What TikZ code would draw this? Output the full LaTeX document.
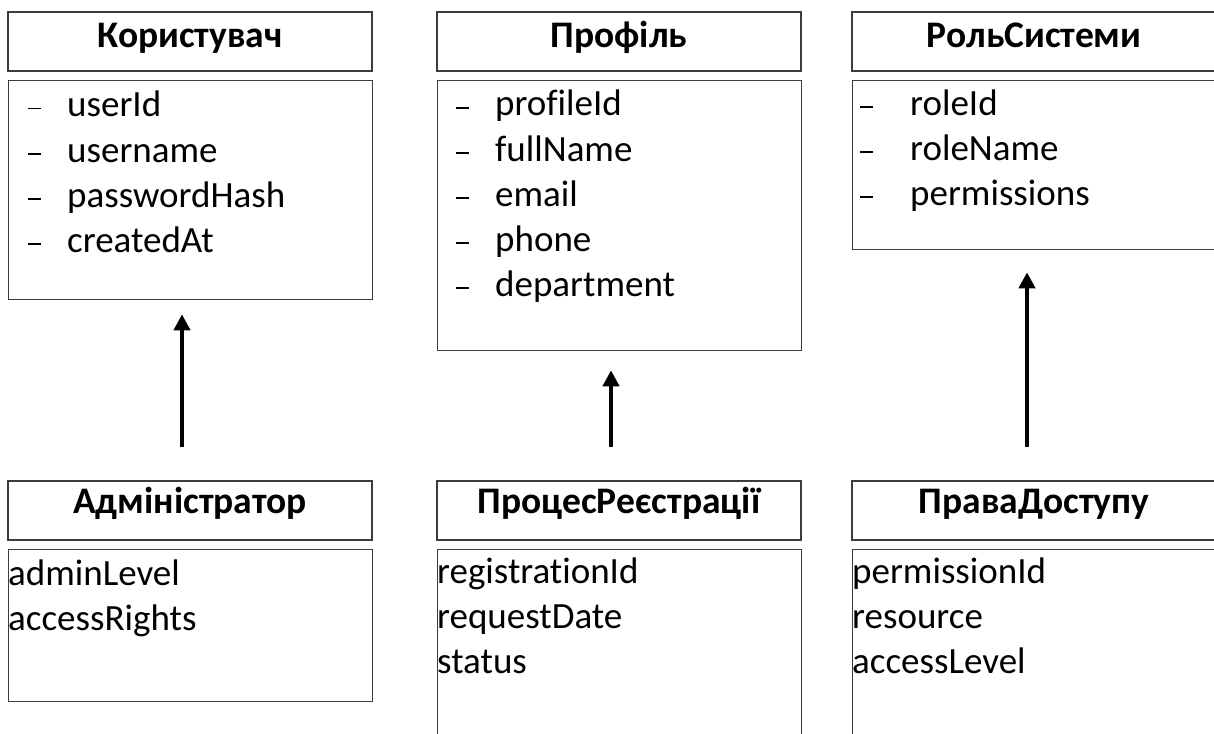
\documentclass[tikz,border=0pt]{standalone}
\usepackage{fontspec}
\setmainfont[Ligatures=NoCommon]{Carlito}
\usetikzlibrary{arrows.meta}
\definecolor{boxline}{RGB}{60,60,60}
\tikzset{
  hdr/.style={draw=boxline, line width=1.3pt, rectangle, minimum width=364pt, minimum height=59pt,
    inner sep=0pt, font=\fontsize{37.5}{44}\selectfont\bfseries},
  hdrtop/.style={hdr, text height=23pt, text depth=11pt},
  hdrbot/.style={hdr, text height=20pt, text depth=14pt},
  bodybox/.style={draw=boxline, line width=1.3pt, rectangle, minimum width=364pt, inner sep=0pt, anchor=north west},
  attr/.style={anchor=base west, inner sep=0pt, font=\fontsize{37}{45}\selectfont},
  arr/.style={draw=black, line width=4pt, -{Triangle[width=16pt,length=16pt]}}
}
\newcommand{\dashmark}{\rule[7.5pt]{13pt}{1.4pt}}
\newcommand{\bul}[1]{\makebox[39pt][l]{\dashmark}#1}
\begin{document}
\begin{tikzpicture}[x=1pt,y=-1pt]
\clip (0,0) rectangle (1214,733);
\fill[white] (0,0) rectangle (1214,733);
% top row
\node[hdrtop] (userH) at (190,41.5) {Користувач};
\node[bodybox, minimum height=219pt] (userB) at (8,80) {};
\node[hdrtop] (profH) at (619,41.5) {Профіль};
\node[bodybox, minimum height=270pt] (profB) at (437,80) {};
\node[hdrtop] (roleH) at (1034,41.5) {РольСистеми};
\node[bodybox, minimum height=169pt] (roleB) at (852,80) {};
% bottom row
\node[hdrbot] (admH) at (190,510.5) {Адміністратор};
\node[bodybox, minimum height=152pt] (admB) at (8,549) {};
\node[hdrbot] (regH) at (619,510.5) {ПроцесРеєстрації};
\node[bodybox, minimum height=230pt] (regB) at (437,549) {};
\node[hdrbot] (permH) at (1034,510.5) {ПраваДоступу};
\node[bodybox, minimum height=230pt] (permB) at (852,549) {};
% attributes
\foreach \t [count=\i] in {userId,username,passwordHash,createdAt}
  \node[attr] (ua\i) at (28,72+45*\i) {\bul{\t}};
\foreach \t [count=\i] in {profileId,fullName,email,phone,department}
  \node[attr] (pa\i) at (456,71+45*\i) {\bul{\t}};
\foreach \t [count=\i] in {roleId,roleName,permissions}
  \node[attr] (ra\i) at (860,70+45*\i) {\makebox[50pt][l]{\dashmark}\t};
\foreach \t [count=\i] in {adminLevel,accessRights}
  \node[attr] (aa\i) at (8,540+45*\i) {\t};
\foreach \t [count=\i] in {registrationId,requestDate,status}
  \node[attr] (ga\i) at (437,538+45*\i) {\t};
\foreach \t [count=\i] in {permissionId,resource,accessLevel}
  \node[attr] (xa\i) at (852,538+45*\i) {\t};
% connectors
\draw[arr, shorten <=33pt, shorten >=14pt] ([xshift=-8pt]admH.north) -- ([xshift=-8pt]admH.north |- userB.south);
\draw[arr, shorten <=33pt, shorten >=19pt] ([xshift=-8pt]regH.north) -- ([xshift=-8pt]regH.north |- profB.south);
\draw[arr, shorten <=33pt, shorten >=22pt] ([xshift=-7pt]permH.north) -- ([xshift=-7pt]permH.north |- roleB.south);
\end{tikzpicture}
\end{document}
